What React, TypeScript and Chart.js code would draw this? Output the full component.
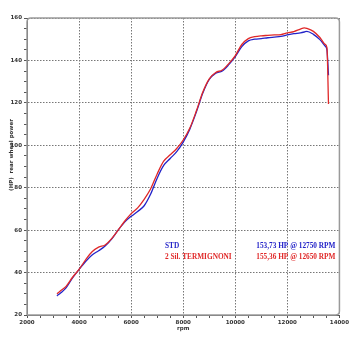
import React, { useEffect, useRef } from "react";
import { Chart, registerables } from "chart.js";

Chart.register(...registerables);

const rpm = [3150, 3300, 3500, 3750, 4000, 4250, 4500, 4750, 5000, 5250, 5500, 5750, 6000, 6250, 6500, 6750, 7000, 7250, 7500, 7750, 8000, 8250, 8500, 8750, 9000, 9250, 9500, 9750, 10000, 10250, 10500, 10750, 11000, 11250, 11500, 11750, 12000, 12250, 12500, 12650, 12750, 13000, 13250, 13450, 13520, 13580];

const stdHp = [29.0, 30.5, 32.8, 37.5, 41.5, 45.2, 48.3, 50.3, 52.5, 55.8, 60, 63.8, 66.5, 68.8, 71.5, 77.0, 84.5, 90.5, 93.8, 97, 101.5, 107.5, 115.5, 124.5, 131, 134, 135, 138, 141.8, 146.5, 149.2, 150, 150.3, 150.7, 151, 151.3, 152, 152.6, 153.0, 153.4, 153.73, 152.3, 149.8, 146.8, 145, 133];

const termHp = [30.0, 31.5, 33.5, 37.8, 41.5, 46, 49.8, 52.0, 53, 56, 60, 64.2, 67.8, 70.5, 74.5, 79.5, 86.5, 92.5, 95.5, 98.5, 102.5, 108, 116, 125, 131.3, 134.3, 135.5, 138.5, 142.3, 147.5, 150.3, 151.2, 151.6, 151.8, 152, 152.2, 153, 153.6, 154.8, 155.36, 155.1, 153.7, 150.8, 147.6, 146, 119.5];

const seriesNames = ["STD", "2 Sil. TERMIGNONI"];
const peakLabels = ["153,73 HP @ 12750 RPM", "155,36 HP @ 12650 RPM"];
const seriesColors = ["#2323c8", "#e02828"];
const xTitle = "rpm";
const yTitle = "(HP)  rear wheel power";

const overlay = {
  id: "overlay",
  beforeDatasetsDraw(chart: any) {
    const { ctx, chartArea: a } = chart;
    ctx.save();
    ctx.strokeStyle = "#9a9a9a";
    ctx.lineWidth = 1.5;
    const r = 4;
    ctx.beginPath();
    ctx.moveTo(a.left, a.bottom);
    ctx.lineTo(a.left, a.top + r);
    ctx.quadraticCurveTo(a.left, a.top, a.left + r, a.top);
    ctx.lineTo(a.right - r, a.top);
    ctx.quadraticCurveTo(a.right, a.top, a.right, a.top + r);
    ctx.lineTo(a.right, a.bottom - r);
    ctx.quadraticCurveTo(a.right, a.bottom, a.right - r, a.bottom);
    ctx.lineTo(a.left, a.bottom);
    ctx.stroke();
    ctx.restore();
  },
  afterDraw(chart: any) {
    const { ctx, chartArea: a } = chart;
    ctx.save();
    ctx.fillStyle = "#333";
    ctx.font = "bold 5.5px 'DejaVu Sans'";
    ctx.textAlign = "center";
    ctx.textBaseline = "middle";
    ctx.fillText(xTitle, (a.left + a.right) / 2, 329);
    ctx.translate(11.5, 155);
    ctx.rotate(-Math.PI / 2);
    ctx.fillText(yTitle, 0, 0);
    ctx.restore();

    ctx.save();
    ctx.font = "bold 7.3px 'Liberation Serif'";
    ctx.textBaseline = "middle";
    const ys = [246, 257];
    for (let i = 0; i < 2; i++) {
      ctx.fillStyle = seriesColors[i];
      ctx.textAlign = "left";
      ctx.fillText(seriesNames[i], 165, ys[i]);
      ctx.textAlign = "right";
      ctx.fillText(peakLabels[i], a.right - 4, ys[i]);
    }
    ctx.restore();
  },
};

export default function App() {
  const ref = useRef<HTMLCanvasElement>(null);
  useEffect(() => {
    const canvas = ref.current!;
    const chart = new Chart(canvas, {
      type: "line",
      data: {
        datasets: [
          {
            label: seriesNames[0],
            data: rpm.map((x, i) => ({ x, y: stdHp[i] })),
            borderColor: seriesColors[0],
            borderWidth: 1.3,
            pointRadius: 0,
            cubicInterpolationMode: "monotone",
            order: 1,
          },
          {
            label: seriesNames[1],
            data: rpm.map((x, i) => ({ x, y: termHp[i] })),
            borderColor: seriesColors[1],
            borderWidth: 1.3,
            pointRadius: 0,
            cubicInterpolationMode: "monotone",
            order: 0,
          },
        ],
      },
      options: {
        animation: false,
        responsive: true,
        maintainAspectRatio: false,
        layout: { padding: { top: 18, right: 9, bottom: 0, left: 0 } },
        plugins: { legend: { display: false }, tooltip: { enabled: false } },
        scales: {
          x: {
            type: "linear",
            min: 2000,
            max: 14000,
            afterFit: (s: any) => { s.height = 35; },
            ticks: {
              stepSize: 500,
              autoSkip: false,
              maxRotation: 0,
              padding: 1,
              color: "#333",
              font: { family: "DejaVu Sans", size: 5.5, weight: "bold" },
              callback: (v: any) => (Number(v) % 2000 === 0 ? String(v) : ""),
            },
            grid: {
              color: (c: any) => (c.tick && c.tick.value % 2000 === 0 ? "#777" : "rgba(0,0,0,0)"),
              tickColor: "#555",
              tickLength: 3,
              lineWidth: 1,
            },
            border: { color: "#555", width: 1, dash: [1.5, 1.5] },
          },
          y: {
            min: 20,
            max: 160,
            afterFit: (s: any) => { s.width = 27; },
            ticks: {
              stepSize: 5,
              autoSkip: false,
              padding: 2,
              color: "#333",
              font: { family: "DejaVu Sans", size: 5.5, weight: "bold" },
              callback: (v: any) => (Number(v) % 20 === 0 ? String(v) : ""),
            },
            grid: {
              color: (c: any) => (c.tick && c.tick.value % 20 === 0 ? "#777" : "rgba(0,0,0,0)"),
              tickColor: "#555",
              tickLength: 3,
              lineWidth: 1,
            },
            border: { color: "#555", width: 1, dash: [1.5, 1.5] },
          },
        },
      },
      plugins: [overlay],
    });
    return () => chart.destroy();
  }, []);
  return (
    <div style={{ position: "fixed", left: 0, top: 0, width: 350, height: 350, background: "#fff" }}>
      <canvas ref={ref} />
    </div>
  );
}
